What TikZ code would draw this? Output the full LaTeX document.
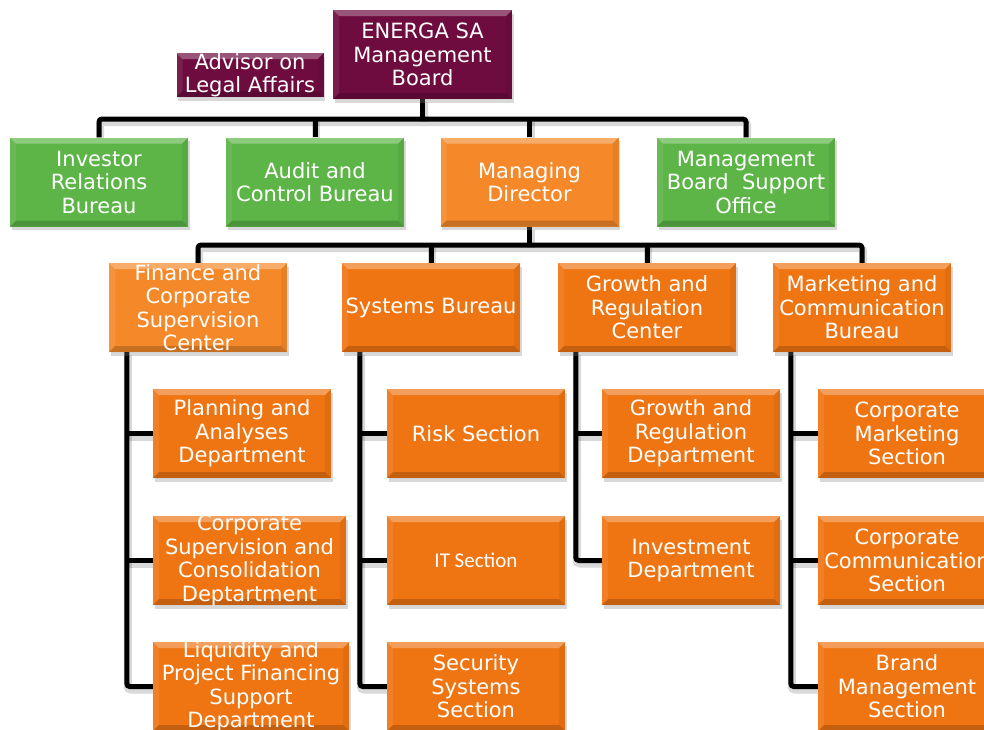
\documentclass[tikz,border=0pt]{standalone}
\usepackage{fontspec}
\setmainfont{DejaVu Sans}
\newfontfamily\calfont{Carlito}
\usetikzlibrary{calc,shadows}

\definecolor{plum}{HTML}{6E0C40}
\definecolor{leaf}{HTML}{5DB548}
\definecolor{amber}{HTML}{F5892A}
\definecolor{rust}{HTML}{EF7513}

\pgfdeclarelayer{bg}
\pgfsetlayers{bg,main}

\tikzset{
  x=1pt, y=-1pt,
  % raised unit box with bevelled edges
  orgbox/.style={fill=#1, draw=none, inner sep=0pt,
    minimum width=178pt, minimum height=89pt,
    drop shadow={shadow xshift=1.5pt, shadow yshift=-3.5pt, opacity=.3},
    path picture={
      \coordinate (pnw) at (path picture bounding box.north west);
      \coordinate (pne) at (path picture bounding box.north east);
      \coordinate (psw) at (path picture bounding box.south west);
      \coordinate (pse) at (path picture bounding box.south east);
      \fill[white,opacity=.3] (pnw) -- (pne) -- ($(pne)+(-6pt,-6pt)$) -- ($(pnw)+(6pt,-6pt)$) -- cycle;
      \fill[white,opacity=.08] (pnw) -- ($(pnw)+(6pt,-6pt)$) -- ($(psw)+(6pt,6pt)$) -- (psw) -- cycle;
      \fill[black,opacity=.06] (pne) -- ($(pne)+(-6pt,-6pt)$) -- ($(pse)+(-6pt,6pt)$) -- (pse) -- cycle;
      \fill[black,opacity=.18] (psw) -- ($(psw)+(6pt,6pt)$) -- ($(pse)+(-6pt,6pt)$) -- (pse) -- cycle;
    }},
  orgtext/.style={text=white, align=center, inner sep=0pt,
    font=\fontsize{21}{23.5}\selectfont},
  link/.style={draw=black, line width=5pt, rounded corners=3pt,
    preaction={draw=black, opacity=.15, line width=8pt,
      transform canvas={xshift=1pt, yshift=-3pt}}},
}

% \orgunit[extra]{name}{colour}{cx}{cy}{width}{text}
\newcommand\orgunit[7][]{%
  \node[orgbox=#3, minimum width=#6pt, #1] (#2) at (#4,#5) {};
  \node[orgtext] at (#2.center) {#7};}

\begin{document}
\begin{tikzpicture}
\useasboundingbox (0,0) rectangle (984,729);
\clip (0,0) rectangle (984,729);

% board level
\orgunit{board}{plum}{422.5}{54.5}{179}{ENERGA SA\\Management\\Board}
\orgunit[minimum height=44pt]{advisor}{plum}{250}{75}{147}{Advisor on\\Legal Affairs}

% units reporting to the board
\orgunit{investor}{leaf}{99}{182}{178}{Investor\\Relations\\Bureau}
\orgunit{audit}{leaf}{315}{182}{178}{Audit and\\Control Bureau}
\orgunit{md}{amber}{529.5}{182}{178}{Managing\\Director}
\orgunit{support}{leaf}{746}{182}{178}{Management\\Board\ \ Support\\Office}

% units reporting to the managing director
\orgunit{finance}{amber}{198}{307.5}{178}{Finance and\\Corporate\\Supervision\\Center}
\orgunit{systems}{rust}{431}{307.5}{178}{Systems Bureau}
\orgunit{growth}{rust}{647}{307.5}{178}{Growth and\\Regulation\\Center}
\orgunit{marketing}{rust}{862}{307.5}{178}{Marketing and\\Communication\\Bureau}

% departments and sections
\orgunit{planning}{rust}{242}{433.5}{178}{Planning and\\Analyses\\Department}
\orgunit{consol}{rust}{249.5}{560.5}{193}{Corporate\\Supervision and\\Consolidation\\Deptartment}
\orgunit{liquidity}{rust}{251}{686.5}{196}{Liquidity and\\Project Financing\\Support\\Department}

\orgunit{risk}{rust}{476}{433.5}{178}{Risk Section}
\orgunit{itsec}{rust}{476}{560.5}{178}{{\calfont IT Section}}
\orgunit{security}{rust}{476}{686.5}{178}{Security\\Systems\\Section}

\orgunit{growthdep}{rust}{691}{433.5}{178}{Growth and\\Regulation\\Department}
\orgunit{investment}{rust}{691}{560.5}{178}{Investment\\Department}

\orgunit{corpmkt}{rust}{907}{433.5}{178}{Corporate\\Marketing\\Section}
\orgunit{corpcomm}{rust}{907}{560.5}{178}{Corporate\\Communication\\Section}
\orgunit{brand}{rust}{907}{686.5}{178}{Brand\\Management\\Section}

\begin{pgfonlayer}{bg}
  \fill[white] (0,0) rectangle (984,729);

  % board bus
  \coordinate (bus1) at (422.5,119);
  \draw[link] (board.south) -- (bus1);
  \draw[link] (investor.north) |- (bus1) -| (support.north);
  \draw[link] (audit.north) -- (audit.north |- bus1);
  \draw[link] (md.north) -- (md.north |- bus1);

  % managing director bus
  \coordinate (bus2) at (529.5,245);
  \draw[link] (md.south) -- (bus2);
  \draw[link] (finance.north) |- (bus2) -| (marketing.north);
  \draw[link] (systems.north) -- (systems.north |- bus2);
  \draw[link] (growth.north) -- (growth.north |- bus2);

  % column spines
  \coordinate (col1) at ($(finance.south west)+(18pt,0pt)$);
  \coordinate (col2) at ($(systems.south west)+(18pt,0pt)$);
  \coordinate (col3) at ($(growth.south west)+(18pt,0pt)$);
  \coordinate (col4) at ($(marketing.south west)+(18pt,0pt)$);

  \draw[link] (col1) |- (liquidity.west);
  \draw[link] (planning.west) -- (planning.west -| col1);
  \draw[link] (consol.west) -- (consol.west -| col1);

  \draw[link] (col2) |- (security.west);
  \draw[link] (risk.west) -- (risk.west -| col2);
  \draw[link] (itsec.west) -- (itsec.west -| col2);

  \draw[link] (col3) |- (investment.west);
  \draw[link] (growthdep.west) -- (growthdep.west -| col3);

  \draw[link] (col4) |- (brand.west);
  \draw[link] (corpmkt.west) -- (corpmkt.west -| col4);
  \draw[link] (corpcomm.west) -- (corpcomm.west -| col4);
\end{pgfonlayer}
\end{tikzpicture}
\end{document}
